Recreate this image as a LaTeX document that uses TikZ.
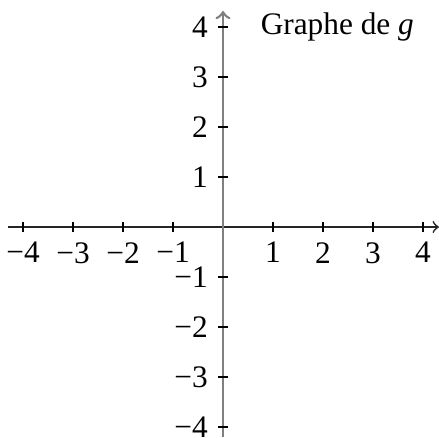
\documentclass[tikz,border=0pt]{standalone}
\usepackage{fontspec}
\setmainfont{Liberation Serif}
\usepackage{tikz}
\usetikzlibrary{arrows.meta}

\begin{document}
\begin{tikzpicture}[x=0.6cm, y=0.6cm,
  axe/.style={line width=0.6pt, black!85, -to},
  axey/.style={line width=0.9pt, gray, -to},
  graduation/.style={thin, black},
  chiffre/.style={font=\fontsize{10.7}{13}\selectfont, inner sep=3.3pt}
]
\useasboundingbox (-4.46,-4.2) rectangle (4.32,4.54);

% axes
\coordinate (xg) at (-4.3,0);
\coordinate (xd) at (4.32,0);
\coordinate (yb) at (0,-4.2);
\coordinate (yh) at (0,4.32);
\draw[axe] (xg) -- (xd);
\draw[axey] (yb) -- (yh);

% graduations
\foreach \k in {-4,-3,-2,-1,1,2,3,4} {
  \draw[graduation] (\k,-0.1) -- (\k,0.1);
  \node[chiffre, below] (x\k) at (\k,-0.1) {\ifnum\k<0 −\the\numexpr-\k\relax\else\k\fi};
  \draw[graduation] (-0.1,\k) -- (0.1,\k);
  \node[chiffre, left] (y\k) at (-0.1,\k) {\ifnum\k<0 −\the\numexpr-\k\relax\else\k\fi};
}

\node[chiffre, anchor=west] (titre) at (0.55,4) {Graphe de \textit{g}};
\end{tikzpicture}
\end{document}
